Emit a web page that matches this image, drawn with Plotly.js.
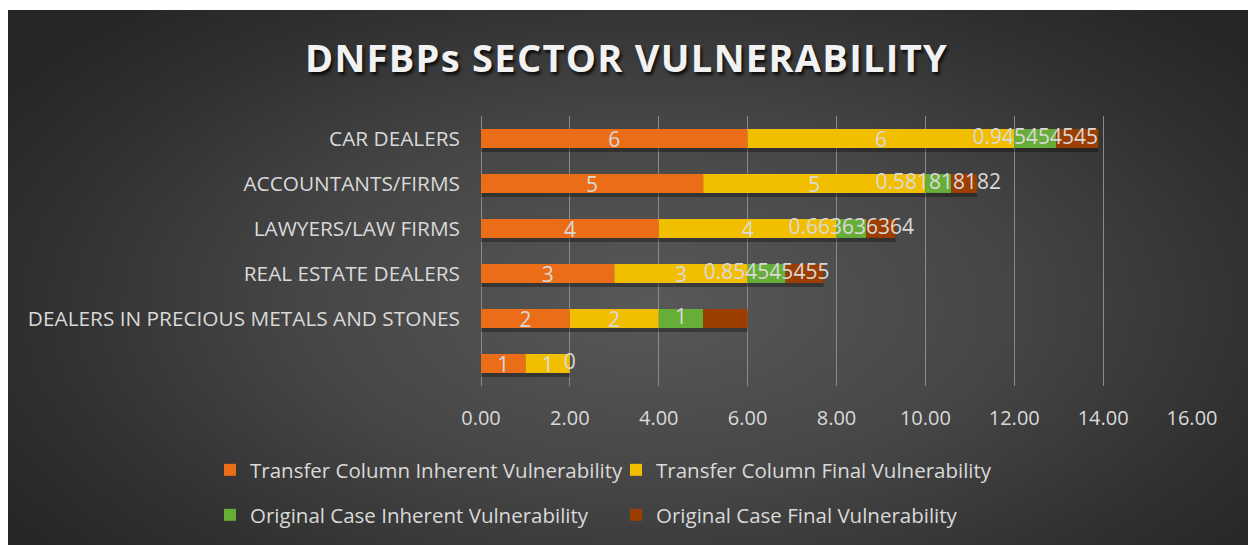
<!DOCTYPE html>
<html>
<head>
<meta charset="utf-8">
<script src="https://cdn.plot.ly/plotly-3.0.1.min.js"></script>
<style>
  html, body { margin: 0; padding: 0; background: #ffffff; width: 1248px; height: 545px; overflow: hidden; }
  #bg { position: absolute; left: 8px; top: 10px; width: 1240px; height: 535px;
        background: radial-gradient(ellipse 62% 75% at 52% 55%, #585858 0%, #464646 45%, #303030 80%, #262626 100%); }
  #chart { position: absolute; left: 0; top: 0; width: 1248px; height: 545px; }
  #chart .gtitle { letter-spacing: 1.3px; }
</style>
</head>
<body>
<div id="bg"></div>
<div id="chart"></div>
<script>
// ---- data ----
const categories = [' ', 'DEALERS IN PRECIOUS METALS AND STONES', 'REAL ESTATE DEALERS', 'LAWYERS/LAW FIRMS', 'ACCOUNTANTS/FIRMS', 'CAR DEALERS'];
const transferInherent = [1, 2, 3, 4, 5, 6];
const transferFinal = [1, 2, 3, 4, 5, 6];
const originalInherent = [0, 1, 0.854545455, 0.663636364, 0.581818182, 0.945454545];
const originalFinal = [0, 1, 0.854545455, 0.663636364, 0.581818182, 0.945454545];
const seriesNames = ['Transfer Column Inherent Vulnerability', 'Transfer Column Final Vulnerability', 'Original Case Inherent Vulnerability', 'Original Case Final Vulnerability'];
const seriesColors = ['#EB6D18', '#F2BF00', '#66AE37', '#9C3D02'];
const xTickValues = [0, 2, 4, 6, 8, 10, 12, 14, 16];
const chartTitle = 'DNFBPs SECTOR VULNERABILITY';

// ---- build ----
const series = [transferInherent, transferFinal, originalInherent, originalFinal];
const FONT = '"Open Sans", "DejaVu Sans", sans-serif';
const LABEL = '#D9D9D9';
const BW = 0.42;

const bases = [];
let running = categories.map(() => 0);
series.forEach(s => { bases.push(running.slice()); running = running.map((v, i) => v + s[i]); });
const totals = running;

const traces = [];
// shadow under each stacked bar
traces.push({
  type: 'bar', orientation: 'h', y: categories, x: totals, base: 0,
  width: BW, offset: -BW / 2 - 0.09,
  marker: { color: 'rgba(0,0,0,0.32)' }, showlegend: false, hoverinfo: 'skip'
});
series.forEach((s, k) => {
  const t = {
    type: 'bar', orientation: 'h', name: seriesNames[k], y: categories, x: s, base: bases[k],
    width: BW, marker: { color: seriesColors[k], line: { width: 0 } },
    legend: k === 0 ? 'legend' : 'legend' + (k + 1)
  };
  if (k < 2) {
    t.text = s.map(v => String(v));
    t.textposition = 'inside';
    t.insidetextanchor = 'middle';
    t.textangle = 0;
    t.constraintext = 'none';
    t.insidetextfont = { family: FONT, size: 21, color: LABEL };
  } else {
    t.textposition = 'none';
  }
  traces.push(t);
});
// labels for the green series (centered on its segment, may overflow)
traces.push({
  type: 'scatter', mode: 'text', y: categories,
  x: originalInherent.map((v, i) => bases[2][i] + v / 2),
  text: originalInherent.map(v => String(v)),
  textposition: 'middle center',
  textfont: { family: FONT, size: 21, color: LABEL },
  showlegend: false, hoverinfo: 'skip', cliponaxis: false
});

function legendAt(xpx, ypx) {
  return {
    xref: 'container', yref: 'container', x: xpx / 1248, y: 1 - ypx / 545,
    xanchor: 'left', yanchor: 'middle', orientation: 'h',
    bgcolor: 'rgba(0,0,0,0)', borderwidth: 0,
    font: { family: FONT, size: 20.5, color: LABEL }
  };
}

const layout = {
  width: 1248, height: 545,
  paper_bgcolor: 'rgba(0,0,0,0)', plot_bgcolor: 'rgba(0,0,0,0)',
  margin: { l: 481, r: 56, t: 116, b: 159, pad: 0 },
  barmode: 'overlay',
  title: {
    text: chartTitle, xref: 'container', yref: 'container', x: 0.502, y: 1 - 59 / 545,
    xanchor: 'center', yanchor: 'middle',
    font: { family: FONT, size: 38, color: '#F2F2F2', weight: 700, shadow: '2px 3px 3px rgba(0,0,0,0.75)' }
  },
  xaxis: {
    range: [0, 16], tickvals: xTickValues, tickformat: '.2f',
    showgrid: true, gridcolor: '#8a8a8a', gridwidth: 1,
    zeroline: true, zerolinecolor: '#8a8a8a', zerolinewidth: 1,
    showline: false, ticks: '', ticklabelstandoff: 18,
    tickfont: { family: FONT, size: 20, color: LABEL }, fixedrange: true
  },
  yaxis: {
    type: 'category', categoryorder: 'array', categoryarray: categories,
    range: [-0.5, 5.5], showgrid: false, zeroline: false, showline: false,
    ticks: '', ticklabelstandoff: 20,
    tickfont: { family: FONT, size: 20.8, color: LABEL }, fixedrange: true
  },
  legend: legendAt(210, 470),
  legend2: legendAt(616, 470),
  legend3: legendAt(210, 515),
  legend4: legendAt(616, 515),
  showlegend: true,
  hovermode: false
};

Plotly.newPlot('chart', traces, layout, { displayModeBar: false, staticPlot: true });
</script>
</body>
</html>
